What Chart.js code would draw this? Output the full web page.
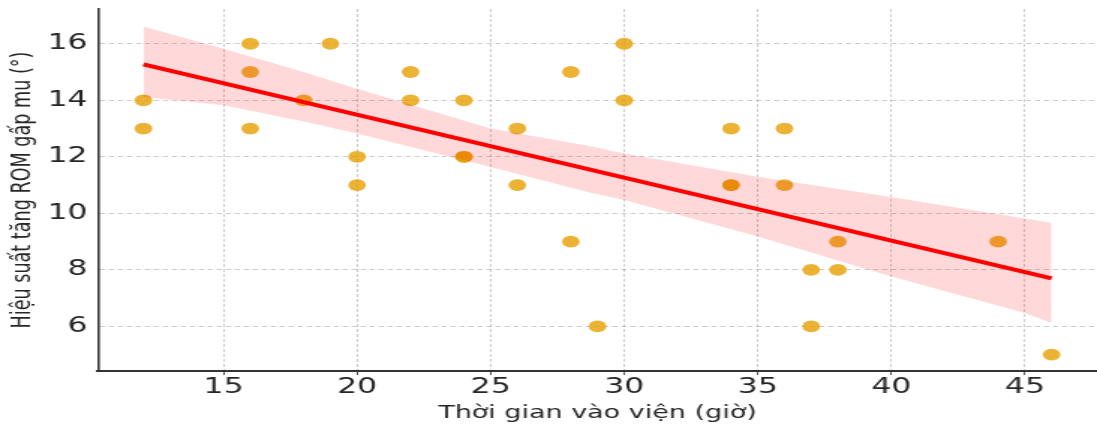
<!DOCTYPE html>
<html>
<head>
<meta charset="utf-8">
<script src="https://cdn.jsdelivr.net/npm/chart.js@4/dist/chart.umd.min.js"></script>
<style>
  html, body { margin: 0; padding: 0; background: #fff; overflow: hidden; }
  #wrap { width: 732px; height: 426px; transform: scaleX(1.4986); transform-origin: 0 0; }
  canvas { display: block; }
</style>
</head>
<body>
<div id="wrap"><canvas id="c" width="732" height="426" style="width:732px;height:426px"></canvas></div>
<script>
// Scatter points: admission time (hours) vs ROM gain (degrees)
const hours = [12, 12, 16, 16, 16, 18, 19, 20, 20, 22, 22, 24, 24, 24, 26, 26, 28, 28, 29, 30, 30, 34, 34, 34, 36, 36, 37, 37, 38, 38, 44, 46];
const romGain = [14, 13, 16, 15, 13, 14, 16, 12, 11, 15, 14, 14, 12, 12, 13, 11, 15, 9, 6, 16, 14, 13, 11, 11, 13, 11, 8, 6, 9, 8, 9, 5];

// Regression line
const fitX = [12, 46];
const fitY = [15.27, 7.70];

// Confidence band edges
const bandX = [12, 15, 18, 20, 25, 28.7, 30, 35, 40, 45, 46];
const bandUpper = [16.61, 15.82, 15.00, 14.41, 13.00, 12.38, 12.12, 11.29, 10.58, 9.82, 9.67];
const bandLower = [14.12, 13.82, 13.25, 12.82, 11.64, 10.74, 10.47, 9.18, 7.76, 6.47, 6.12];

// Tick labels
const xTicks = [15, 20, 25, 30, 35, 40, 45];
const yTicks = [6, 8, 10, 12, 14, 16];

const xLabel = 'Thời gian vào viện (giờ)';
const yLabel = 'Hiệu suất tăng ROM gấp mu (°)';

const pts = hours.map((h, i) => ({ x: h, y: romGain[i] }));
const fitPts = fitX.map((x, i) => ({ x, y: fitY[i] }));
const upPts = bandX.map((x, i) => ({ x, y: bandUpper[i] }));
const loPts = bandX.map((x, i) => ({ x, y: bandLower[i] }));

Chart.defaults.font.family = "'DejaVu Sans', sans-serif";
Chart.defaults.color = '#262626';

const noPad = s => { s.paddingLeft = 0; s.paddingRight = 0; s.paddingTop = 0; s.paddingBottom = 0; };

new Chart(document.getElementById('c'), {
  type: 'scatter',
  data: {
    datasets: [
      { type: 'scatter', data: pts, order: 3, pointRadius: 5.9, pointHoverRadius: 5.9,
        backgroundColor: 'rgba(230,159,0,0.8)', borderWidth: 0 },
      { type: 'line', data: upPts, order: 2, pointRadius: 0, borderWidth: 0,
        backgroundColor: 'rgba(255,0,0,0.15)', fill: '+1', tension: 0 },
      { type: 'line', data: loPts, order: 2, pointRadius: 0, borderWidth: 0,
        backgroundColor: 'rgba(255,0,0,0.15)', fill: false, tension: 0 },
      { type: 'line', data: fitPts, order: 1, pointRadius: 0, borderWidth: 4,
        borderColor: '#ff0000', fill: false, tension: 0 }
    ]
  },
  options: {
    responsive: false,
    devicePixelRatio: 1,
    animation: false,
    events: [],
    layout: { autoPadding: false, padding: { top: 9, right: 0, left: 0, bottom: 0 } },
    plugins: { legend: { display: false }, tooltip: { enabled: false } },
    scales: {
      x: {
        type: 'linear', min: 10.3, max: 47.7,
        afterBuildTicks: s => { s.ticks = xTicks.map(v => ({ value: v })); },
        afterFit: s => { s.height = 55; noPad(s); },
        grid: { color: 'rgba(0,0,0,0.2)', lineWidth: 1, drawTicks: true, tickLength: 4,
                tickColor: '#555', tickWidth: 1, tickBorderDash: [] },
        border: { display: true, color: '#333', width: 2, dash: [3, 2] },
        ticks: { font: { size: 21 }, padding: 0, maxRotation: 0, color: '#262626' },
        title: { display: true, text: xLabel, font: { size: 18 }, padding: { top: 0, bottom: 2 }, color: '#262626' }
      },
      y: {
        type: 'linear', min: 4.42, max: 17.23,
        afterBuildTicks: s => { s.ticks = yTicks.map(v => ({ value: v })); },
        afterFit: s => { s.width = 65.4; noPad(s); },
        grid: { color: 'rgba(0,0,0,0.2)', lineWidth: 1, drawTicks: false },
        border: { display: true, color: '#333', width: 1.6, dash: [3.5, 2.5] },
        ticks: { font: { size: 21 }, padding: 7, color: '#262626' },
        title: { display: true, text: yLabel, font: { size: 17.6 }, padding: { top: 4.6, bottom: 0 }, color: '#262626' }
      }
    }
  }
});
</script>
</body>
</html>
